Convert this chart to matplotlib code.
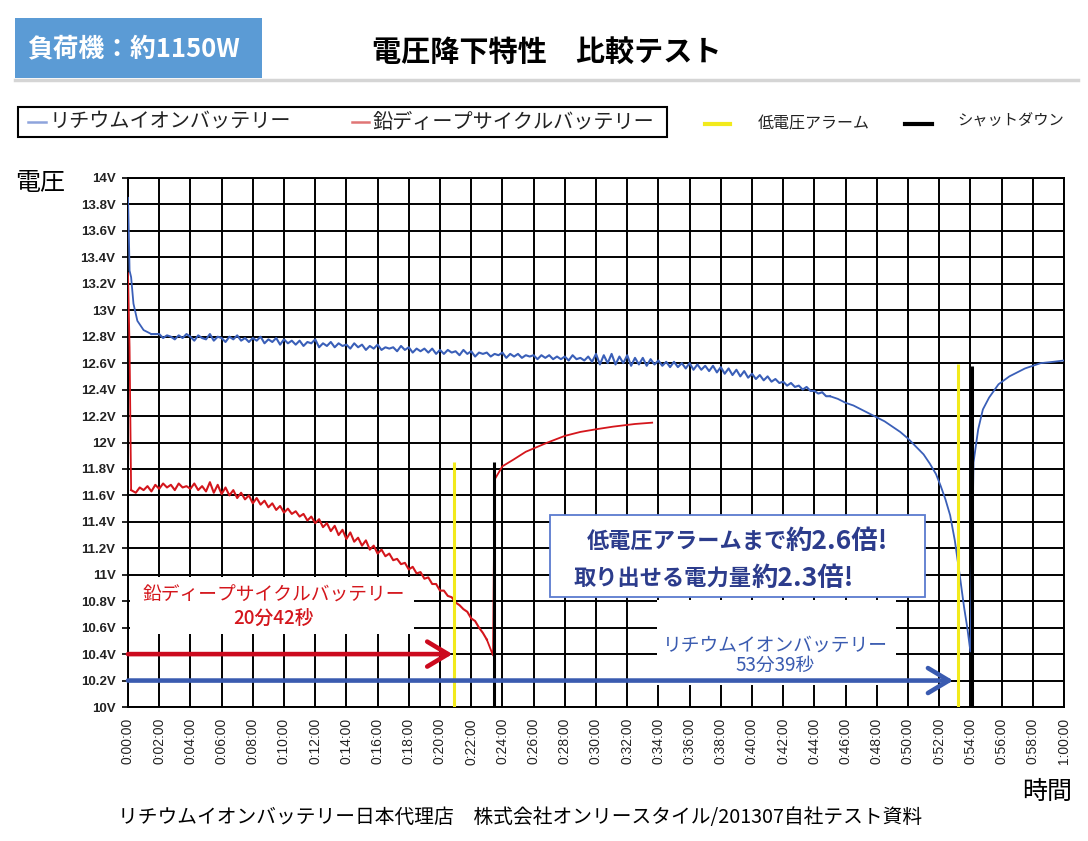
"""Voltage drop comparison: lithium-ion vs lead deep-cycle battery (1150W load)."""

import numpy as np
import matplotlib.pyplot as plt
from matplotlib.patches import Rectangle
from matplotlib.lines import Line2D

plt.rcParams["font.family"] = ["Noto Sans CJK JP", "DejaVu Sans"]

# --- colours ---
LI_BLUE = "#3a5fb8"
LEAD_RED = "#d4161c"
ARROW_RED = "#cc0a1e"
ARROW_BLUE = "#3a5bb0"
NAVY = "#2c3c8c"
YELLOW = "#f2ea1c"
HEADER_BLUE = "#5b9bd5"

# --- data (minutes, volts) ---
# lithium-ion: initial drop
li_start_t = [0.0, 0.05, 0.1, 0.2, 0.35, 0.6, 1.0, 1.5]
li_start_v = [13.85, 13.6, 13.3, 13.25, 13.05, 12.92, 12.85, 12.82]
# lithium-ion: noisy plateau, sampled every 0.25 min from 2.0 to 45.0
li_mid_t = np.arange(2.0, 45.01, 0.25)
li_mid_v = [
    12.82, 12.79, 12.81, 12.80, 12.78, 12.81, 12.79, 12.82,
    12.80, 12.77, 12.81, 12.79, 12.78, 12.82, 12.77, 12.80,
    12.79, 12.76, 12.80, 12.78, 12.81, 12.77, 12.79, 12.76,
    12.79, 12.77, 12.80, 12.75, 12.78, 12.76, 12.79, 12.74,
    12.78, 12.75, 12.77, 12.74, 12.77, 12.73, 12.76, 12.75,
    12.78, 12.72, 12.75, 12.73, 12.76, 12.72, 12.75, 12.73,
    12.74, 12.71, 12.75, 12.72, 12.74, 12.70, 12.73, 12.71,
    12.74, 12.70, 12.72, 12.71, 12.72, 12.69, 12.73, 12.70,
    12.72, 12.68, 12.71, 12.69, 12.71, 12.68, 12.71, 12.67,
    12.70, 12.67, 12.70, 12.68, 12.69, 12.66, 12.70, 12.67,
    12.69, 12.65, 12.68, 12.67, 12.68, 12.65, 12.67, 12.66,
    12.68, 12.64, 12.67, 12.65, 12.67, 12.64, 12.66, 12.65,
    12.66, 12.63, 12.66, 12.64, 12.66, 12.63, 12.65, 12.63,
    12.65, 12.62, 12.66, 12.63, 12.64, 12.62, 12.65, 12.61,
    12.67, 12.59, 12.66, 12.60, 12.67, 12.59, 12.65, 12.60,
    12.66, 12.58, 12.64, 12.59, 12.64, 12.58, 12.63, 12.59,
    12.62, 12.58, 12.61, 12.57, 12.61, 12.57, 12.60, 12.56,
    12.60, 12.55, 12.59, 12.55, 12.58, 12.54, 12.58, 12.53,
    12.57, 12.52, 12.56, 12.51, 12.55, 12.50, 12.54, 12.49,
    12.52, 12.48, 12.51, 12.47, 12.50, 12.46, 12.48, 12.45,
    12.46, 12.43, 12.45, 12.42, 12.43, 12.40, 12.42, 12.39,
    12.39, 12.37, 12.38, 12.35, 12.35,
]
# lithium-ion: knee, cut-off and recovery
li_end_t = [45.5, 46.0, 46.5, 47.0, 47.5, 48.0, 48.5, 49.0, 49.5, 50.0, 50.5, 51.0,
            51.4, 51.8, 52.1, 52.4, 52.7, 53.0, 53.3, 53.6, 53.8, 54.0, 54.2, 54.5,
            54.8, 55.2, 55.8, 56.5, 57.5, 58.5, 59.3, 60.0]
li_end_v = [12.33, 12.30, 12.28, 12.25, 12.22, 12.19, 12.16, 12.12, 12.08, 12.03,
            11.97, 11.91, 11.84, 11.76, 11.67, 11.57, 11.45, 11.26, 11.01, 10.75,
            10.60, 10.42, 11.85, 12.10, 12.25, 12.34, 12.44, 12.50, 12.56, 12.60,
            12.61, 12.62]

# lead deep-cycle: initial drop
lead_start_t = [0.0, 0.1, 0.2]
lead_start_v = [13.28, 12.72, 11.64]
# lead deep-cycle: discharge, sampled every 0.25 min from 0.5 to 23.0
lead_mid_t = np.arange(0.5, 23.01, 0.25)
lead_mid_v = [
    11.62, 11.66,
    11.64, 11.67, 11.63, 11.68, 11.65, 11.69, 11.66, 11.68,
    11.64, 11.69, 11.66, 11.67, 11.65, 11.69, 11.64, 11.67,
    11.63, 11.70, 11.62, 11.68, 11.61, 11.66, 11.60, 11.64,
    11.58, 11.62, 11.57, 11.60, 11.54, 11.58, 11.53, 11.56,
    11.51, 11.54, 11.49, 11.52, 11.47, 11.50, 11.46, 11.48,
    11.44, 11.46, 11.41, 11.44, 11.39, 11.42, 11.36, 11.39,
    11.33, 11.37, 11.30, 11.34, 11.27, 11.32, 11.25, 11.28,
    11.22, 11.26, 11.19, 11.22, 11.16, 11.19, 11.14, 11.16,
    11.11, 11.12, 11.08, 11.09, 11.04, 11.06, 11.01, 11.02,
    10.97, 10.98, 10.93, 10.93, 10.88, 10.88, 10.84, 10.83,
    10.79, 10.77, 10.74, 10.72, 10.67, 10.65, 10.60, 10.56,
    10.51,
]
# lead deep-cycle: cut-off and recovery
lead_end_t = [23.4, 23.5, 24.0, 24.7, 25.5, 26.9, 28.0, 29.0, 30.0, 31.1, 32.5, 33.6]
lead_end_v = [10.39, 11.72, 11.82, 11.87, 11.93, 12.00, 12.05, 12.08, 12.10, 12.12,
              12.14, 12.15]

# alarm / shutdown markers: (time, top voltage)
lead_alarm = (20.9, 11.85)
lead_shutdown = (23.45, 11.85)
li_alarm = (53.2, 12.59)
li_shutdown = (54.1, 12.58)

# run-time arrows: (end time, level)
lead_arrow = (20.8, 10.4)
li_arrow = (52.9, 10.2)

x_ticks = list(range(0, 61, 2))
x_labels = [f"{m // 60}:{m % 60:02d}:00" for m in x_ticks]
y_ticks = [10 + 0.2 * i for i in range(21)]
y_labels = [f"{round(v, 1):g}V" for v in y_ticks]

# --- figure ---
W, H = 1088, 841
fig = plt.figure(figsize=(W / 100, H / 100), dpi=100)


def fx(px):
    return px / W


def fy(py):
    return 1 - py / H


ax = fig.add_axes([fx(128), fy(707), fx(1064) - fx(128), fy(178) - fy(707)])
ax.set_xlim(0, 60)
ax.set_ylim(10, 14)
ax.set_xticks(x_ticks)
ax.set_xticklabels(x_labels, rotation=90, fontsize=10, family="Liberation Sans",
                   color="#222222")
ax.set_yticks(y_ticks)
ax.set_yticklabels(y_labels, fontsize=9.5, family="Liberation Sans",
                   fontweight="bold", color="#222222")
ax.tick_params(axis="x", length=0, pad=8)
ax.tick_params(axis="y", length=4, width=1.2, pad=5)
ax.grid(True, color="black", lw=1.4)
ax.set_axisbelow("line")
for sp in ax.spines.values():
    sp.set_linewidth(1.4)
    sp.set_color("black")

# white patches behind the annotations (they hide the grid)
ax.add_patch(Rectangle((0.15, 10.55), 18.2, 0.43, fc="white", ec="none", zorder=2))
ax.add_patch(Rectangle((33.9, 10.17), 15.3, 0.64, fc="white", ec="none", zorder=2))

# curves
ax.plot(li_start_t, li_start_v, color=LI_BLUE, lw=1.3, zorder=4)
ax.plot(np.r_[li_start_t[-1], li_mid_t], np.r_[li_start_v[-1], li_mid_v],
        color=LI_BLUE, lw=1.5, zorder=4)
ax.plot(np.r_[li_mid_t[-1], li_end_t], np.r_[li_mid_v[-1], li_end_v],
        color=LI_BLUE, lw=1.3, zorder=4)

ax.plot(lead_start_t, lead_start_v, color=LEAD_RED, lw=1.3, zorder=4)
ax.plot(np.r_[lead_start_t[-1], lead_mid_t], np.r_[lead_start_v[-1], lead_mid_v],
        color=LEAD_RED, lw=1.5, zorder=4)
ax.plot(np.r_[lead_mid_t[-1], lead_end_t], np.r_[lead_mid_v[-1], lead_end_v],
        color=LEAD_RED, lw=1.3, zorder=4)

# alarm / shutdown lines
for (t, top), c in [(lead_alarm, YELLOW), (li_alarm, YELLOW),
                    (lead_shutdown, "black"), (li_shutdown, "black")]:
    ax.vlines(t, 10, top, color=c, lw=2.2, zorder=5)

# arrows
for (t, lvl), c in [(lead_arrow, ARROW_RED), (li_arrow, ARROW_BLUE)]:
    ax.annotate("", xy=(t, lvl), xytext=(0, lvl),
                arrowprops=dict(arrowstyle="->,head_length=0.75,head_width=0.45",
                                color=c, lw=3.3, shrinkA=0, shrinkB=0,
                                mutation_scale=20),
                zorder=6)

# run-time labels
ax.text(9.36, 10.847, "鉛ディープサイクルバッテリー", color=LEAD_RED, fontsize=13.5,
        ha="center", va="center", zorder=6)
ax.text(9.3, 10.673, "20分42秒", color=LEAD_RED, fontsize=13.5, fontweight="medium",
        ha="center", va="center", zorder=6)
ax.text(41.5, 10.469, "リチウムイオンバッテリー", color=ARROW_BLUE, fontsize=13.5,
        ha="center", va="center", zorder=6)
ax.text(41.5, 10.318, "53分39秒", color=ARROW_BLUE, fontsize=13.5,
        ha="center", va="center", zorder=6)

# comparison box
ax.add_patch(Rectangle((27.05, 10.83), 24.05, 0.62, fc="white", ec="#5a7bcf",
                       lw=1.3, zorder=6))
ax.text(42.25, 11.255, "低電圧アラームまで", color=NAVY, fontsize=16,
        fontweight="bold", ha="right", va="center", zorder=7)
ax.text(42.15, 11.255, "約2.6倍!", color=NAVY, fontsize=19,
        fontweight="bold", ha="left", va="center", zorder=7)
ax.text(40.0, 10.975, "取り出せる電力量", color=NAVY, fontsize=16,
        fontweight="bold", ha="right", va="center", zorder=7)
ax.text(39.95, 10.975, "約2.3倍!", color=NAVY, fontsize=19,
        fontweight="bold", ha="left", va="center", zorder=7)

# --- header ---
fig.patches.append(Rectangle((fx(15), fy(78)), fx(262) - fx(15), fy(18) - fy(78),
                             transform=fig.transFigure, fc=HEADER_BLUE, ec="none"))
fig.text(fx(27), fy(49), "負荷機：約1150W", color="white", fontsize=18.5,
         fontweight="bold", ha="left", va="center")
fig.text(fx(547), fy(52), "電圧降下特性　比較テスト", color="black", fontsize=21,
         fontweight="bold", ha="center", va="center")
fig.lines.append(Line2D([fx(15), fx(1078)], [fy(80), fy(80)], transform=fig.transFigure,
                        color="#d5d5d5", lw=2.5))

# --- legend ---
fig.patches.append(Rectangle((fx(18), fy(137)), fx(667) - fx(18), fy(107) - fy(137),
                             transform=fig.transFigure, fc="white", ec="black", lw=1.5))
legend_items = [
    (28, 46, 122, 50, 122, "リチウムイオンバッテリー", "#8ea4dc", 1.8, 14.5),
    (352, 369, 122, 373, 122, "鉛ディープサイクルバッテリー", "#e07575", 1.8, 14.5),
    (705, 730, 124, 758, 124, "低電圧アラーム", YELLOW, 3.0, 11.5),
    (905, 932, 124, 957, 120, "シャットダウン", "black", 3.0, 11),
]
for x0, x1, ly, tx, ty, label, c, lw, fs in legend_items:
    fig.lines.append(Line2D([fx(x0), fx(x1)], [fy(ly), fy(ly)],
                            transform=fig.transFigure, color=c, lw=lw))
    fig.text(fx(tx), fy(ty), label, fontsize=fs, ha="left", va="center",
             color="#222222")

# --- axis captions and source ---
fig.text(fx(15), fy(183), "電圧", fontsize=18, ha="left", va="center")
fig.text(fx(1072), fy(792), "時間", fontsize=18, ha="right", va="center")
fig.text(fx(520), fy(818),
         "リチウムイオンバッテリー日本代理店　株式会社オンリースタイル/201307自社テスト資料",
         fontsize=14.2, ha="center", va="center")

fig.savefig("out.png", dpi=100, facecolor="white")
